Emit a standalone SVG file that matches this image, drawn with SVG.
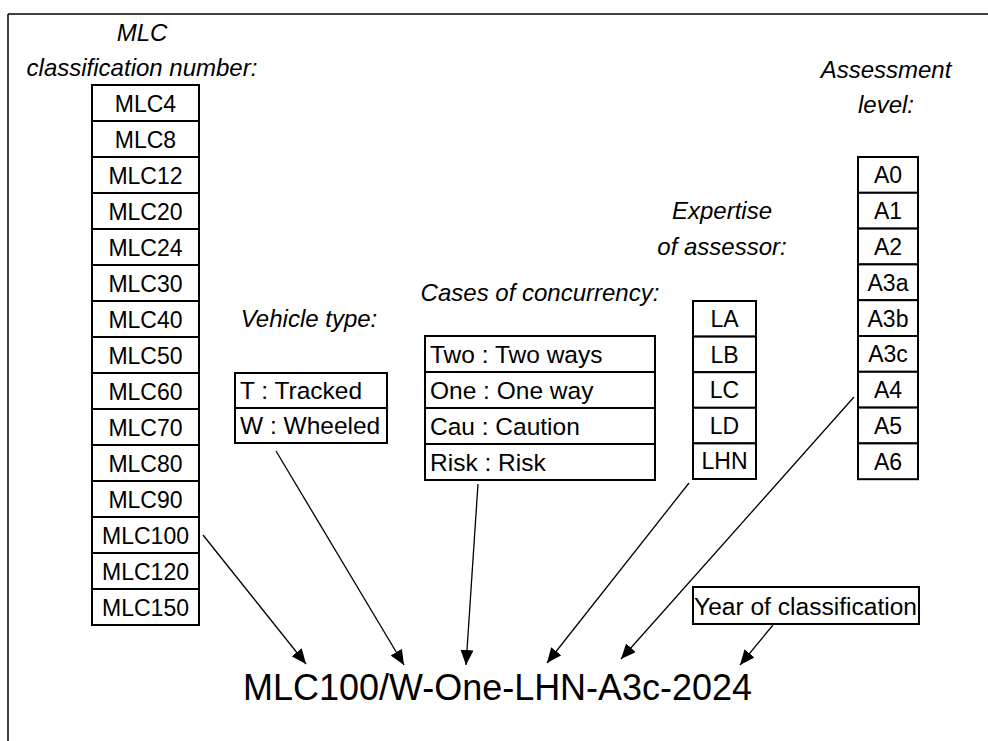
<svg xmlns="http://www.w3.org/2000/svg" width="988" height="741" viewBox="0 0 988 741">
<style>
text{font-family:"Liberation Sans",Arial,sans-serif;font-size:23px;fill:#000}
.lbl{font-style:italic;font-size:24px}
.c{text-anchor:middle}
.w{font-size:24.5px}
.box{fill:#fff;stroke:#000;stroke-width:2}
.big{font-size:36px}
.con line{stroke:#000;stroke-width:1.3;marker-end:url(#ah)}
</style>
<defs>
<marker id="ah" viewBox="0 0 15 13" refX="15" refY="6.5" markerWidth="15" markerHeight="13" markerUnits="userSpaceOnUse" orient="auto">
<path d="M0,0 L15,6.5 L0,13 z" fill="#000"/>
</marker>
</defs>
<rect width="988" height="741" fill="#fff"/>
<g id="frame" fill="none" stroke="#000" stroke-width="1.5">
<line x1="8" y1="14" x2="988" y2="14"/>
<line x1="8" y1="14" x2="8" y2="741"/>
</g>
<g id="labels">
<text class="lbl c" x="142" y="41">MLC</text>
<text class="lbl c" x="142" y="76">classification number:</text>
<text class="lbl c" x="886" y="78">Assessment</text>
<text class="lbl c" x="886" y="113">level:</text>
<text class="lbl c" x="722" y="219">Expertise</text>
<text class="lbl c" x="722" y="255">of assessor:</text>
<text class="lbl c" x="540" y="301">Cases of concurrency:</text>
<text class="lbl c" x="309" y="327">Vehicle type:</text>
</g>
<g id="mlc">
<rect class="box" x="92" y="85" width="107" height="36"/><text class="c" x="145.5" y="112">MLC4</text>
<rect class="box" x="92" y="121" width="107" height="36"/><text class="c" x="145.5" y="148">MLC8</text>
<rect class="box" x="92" y="157" width="107" height="36"/><text class="c" x="145.5" y="184">MLC12</text>
<rect class="box" x="92" y="193" width="107" height="36"/><text class="c" x="145.5" y="220">MLC20</text>
<rect class="box" x="92" y="229" width="107" height="36"/><text class="c" x="145.5" y="256">MLC24</text>
<rect class="box" x="92" y="265" width="107" height="36"/><text class="c" x="145.5" y="292">MLC30</text>
<rect class="box" x="92" y="301" width="107" height="36"/><text class="c" x="145.5" y="328">MLC40</text>
<rect class="box" x="92" y="337" width="107" height="36"/><text class="c" x="145.5" y="364">MLC50</text>
<rect class="box" x="92" y="373" width="107" height="36"/><text class="c" x="145.5" y="400">MLC60</text>
<rect class="box" x="92" y="409" width="107" height="36"/><text class="c" x="145.5" y="436">MLC70</text>
<rect class="box" x="92" y="445" width="107" height="36"/><text class="c" x="145.5" y="472">MLC80</text>
<rect class="box" x="92" y="481" width="107" height="36"/><text class="c" x="145.5" y="508">MLC90</text>
<rect class="box" x="92" y="517" width="107" height="36"/><text class="c" x="145.5" y="544">MLC100</text>
<rect class="box" x="92" y="553" width="107" height="36"/><text class="c" x="145.5" y="580">MLC120</text>
<rect class="box" x="92" y="589" width="107" height="36"/><text class="c" x="145.5" y="616">MLC150</text>
</g>
<g id="vehicle">
<rect class="box" x="235" y="373" width="152" height="35"/><text class="w" x="240" y="399">T : Tracked</text>
<rect class="box" x="235" y="408" width="152" height="35"/><text class="w" x="240" y="434">W : Wheeled</text>
</g>
<g id="concurrency">
<rect class="box" x="425" y="336" width="230" height="36"/><text class="w" x="430" y="363">Two : Two ways</text>
<rect class="box" x="425" y="372" width="230" height="36"/><text class="w" x="430" y="399">One : One way</text>
<rect class="box" x="425" y="408" width="230" height="36"/><text class="w" x="430" y="435">Cau : Caution</text>
<rect class="box" x="425" y="444" width="230" height="36"/><text class="w" x="430" y="471">Risk : Risk</text>
</g>
<g id="expertise">
<rect class="box" x="693" y="301" width="63" height="35.6"/><text class="c" x="724.5" y="327">LA</text>
<rect class="box" x="693" y="336.6" width="63" height="35.6"/><text class="c" x="724.5" y="363">LB</text>
<rect class="box" x="693" y="372.2" width="63" height="35.6"/><text class="c" x="724.5" y="398">LC</text>
<rect class="box" x="693" y="407.8" width="63" height="35.6"/><text class="c" x="724.5" y="434">LD</text>
<rect class="box" x="693" y="443.4" width="63" height="35.6"/><text class="c" x="724.5" y="469">LHN</text>
</g>
<g id="assessment">
<rect class="box" x="858" y="157" width="60" height="35.8"/><text class="c" x="888" y="183">A0</text>
<rect class="box" x="858" y="192.8" width="60" height="35.8"/><text class="c" x="888" y="219">A1</text>
<rect class="box" x="858" y="228.6" width="60" height="35.8"/><text class="c" x="888" y="255">A2</text>
<rect class="box" x="858" y="264.4" width="60" height="35.8"/><text class="c" x="888" y="291">A3a</text>
<rect class="box" x="858" y="300.2" width="60" height="35.8"/><text class="c" x="888" y="327">A3b</text>
<rect class="box" x="858" y="336" width="60" height="35.8"/><text class="c" x="888" y="362">A3c</text>
<rect class="box" x="858" y="371.8" width="60" height="35.8"/><text class="c" x="888" y="398">A4</text>
<rect class="box" x="858" y="407.6" width="60" height="35.8"/><text class="c" x="888" y="434">A5</text>
<rect class="box" x="858" y="443.4" width="60" height="35.8"/><text class="c" x="888" y="470">A6</text>
</g>
<g id="year">
<rect class="box" x="693" y="587" width="226" height="37"/><text x="694" y="615" textLength="223" lengthAdjust="spacingAndGlyphs">Year of classification</text>
</g>
<g id="result">
<text class="big" x="243" y="700" textLength="509" lengthAdjust="spacingAndGlyphs">MLC100/W-One-LHN-A3c-2024</text>
</g>
<g class="con" id="connectors">
<line x1="203" y1="535" x2="306" y2="664"/>
<line x1="276" y1="451" x2="404" y2="665"/>
<line x1="478" y1="484" x2="466" y2="665"/>
<line x1="689" y1="483" x2="547" y2="663"/>
<line x1="854" y1="397" x2="621" y2="659"/>
<line x1="773" y1="625" x2="740" y2="665"/>
</g>
</svg>
